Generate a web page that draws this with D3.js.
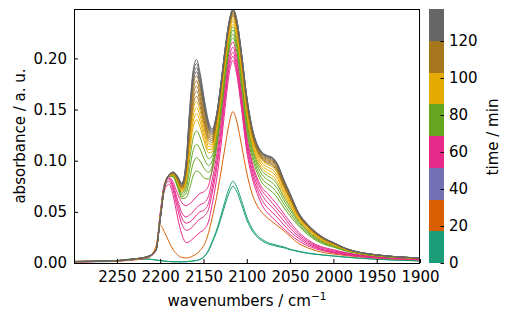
<!DOCTYPE html>
<html><head><meta charset="utf-8">
<script src="https://cdn.jsdelivr.net/npm/d3@7"></script>
<style>body{margin:0;background:#fff}text{font-family:"DejaVu Sans",sans-serif}</style>
</head><body><svg id="c" width="512" height="320"></svg>
<script>
const wavenumbers = [2300,2260,2230,2215,2205,2200,2195,2190,2185,2180,2175,2170,2166,2162,2158,
  2154,2149,2144,2140,2135,2130,2125,2120,2116,2112,2106,2100,2094,2088,2082,
  2076,2070,2064,2058,2050,2040,2030,2020,2010,2000,1985,1970,1950,1925,1900];
const xTicks = [2250,2200,2150,2100,2050,2000,1950,1900];
const yTicks = [0,0.05,0.10,0.15,0.20];
const cbTicks = [0,20,40,60,80,100,120];
const palette = ["#1b9e77","#d95f02","#7570b3","#e7298a","#66a61e","#e6ab02","#a6761d","#666666"];
const times = [0,4,26,52,56,60,64,68,72,76,80,84,88,92,96,100,104,108,112,116,120,124,128,132,136];

const abs_t000 = [0.0015,0.0015,0.004,0.004,0.003,0.0025,0.002,0.0015,0.0012,0.0012,0.0012,0.0013,0.0016,0.002,0.0026,
  0.0036,0.0066,0.013,0.021,0.032,0.046,0.061,0.074,0.080,0.075,0.061,0.045,0.034,0.027,0.023,
  0.020,0.0185,0.017,0.016,0.0135,0.0115,0.0098,0.0087,0.0078,0.007,0.0058,0.0048,0.0037,0.0028,0.0021];
const abs_t004 = [0.0013,0.0013,0.0038,0.0038,0.0028,0.0023,0.0018,0.0014,0.0011,0.0011,0.0011,0.0012,0.0015,0.0019,0.0024,
  0.0034,0.0062,0.012,0.0197,0.030,0.043,0.057,0.0695,0.075,0.0705,0.057,0.042,0.032,0.0254,0.0216,
  0.0188,0.0174,0.016,0.015,0.013,0.011,0.0094,0.0084,0.0075,0.0067,0.0056,0.0046,0.0036,0.0027,0.002];
const abs_t026 = [0.0012,0.0015,0.003,0.005,0.016,0.037,0.030,0.021,0.013,0.008,0.0055,0.005,0.0055,0.007,0.009,
  0.012,0.018,0.030,0.044,0.064,0.088,0.114,0.138,0.148,0.140,0.115,0.088,0.068,0.056,0.049,
  0.044,0.040,0.036,0.032,0.026,0.019,0.015,0.012,0.010,0.0088,0.0072,0.006,0.0048,0.0038,0.003];
const abs_t052 = [0.0012,0.0016,0.0033,0.0052,0.012,0.045,0.071,0.077,0.066,0.045,0.028,0.020,0.021,0.024,0.027,
  0.030,0.033,0.041,0.057,0.081,0.113,0.152,0.187,0.198,0.186,0.150,0.109,0.084,0.068,0.056,
  0.049,0.044,0.039,0.034,0.028,0.0215,0.017,0.0138,0.0115,0.0098,0.0079,0.0064,0.0049,0.004,0.0032];
const abs_t056 = [0.0012,0.0017,0.0034,0.0053,0.012,0.046,0.074,0.080,0.071,0.053,0.038,0.032,0.033,0.036,0.040,
  0.043,0.046,0.053,0.068,0.091,0.122,0.160,0.193,0.202,0.190,0.154,0.113,0.088,0.072,0.061,
  0.054,0.049,0.044,0.038,0.031,0.024,0.0185,0.015,0.0123,0.0105,0.0084,0.0068,0.0052,0.0042,0.0034];
const abs_t060 = [0.0012,0.0017,0.0034,0.0054,0.012,0.047,0.076,0.082,0.074,0.058,0.044,0.039,0.040,0.043,0.047,
  0.050,0.052,0.059,0.074,0.097,0.128,0.165,0.197,0.206,0.194,0.158,0.117,0.092,0.076,0.066,
  0.059,0.054,0.048,0.042,0.034,0.026,0.020,0.016,0.013,0.0112,0.0089,0.0072,0.0055,0.0044,0.0036];
const abs_t064 = [0.0012,0.0018,0.0035,0.0055,0.012,0.048,0.077,0.083,0.076,0.062,0.049,0.045,0.047,0.050,0.054,
  0.057,0.059,0.066,0.081,0.104,0.135,0.171,0.202,0.211,0.199,0.162,0.121,0.096,0.080,0.070,
  0.064,0.058,0.052,0.046,0.037,0.028,0.0215,0.017,0.014,0.012,0.0095,0.0077,0.0058,0.0046,0.0038];
const abs_t068 = [0.0012,0.0018,0.0035,0.0055,0.012,0.048,0.078,0.084,0.079,0.068,0.059,0.056,0.058,0.061,0.065,
  0.068,0.070,0.076,0.091,0.113,0.143,0.177,0.208,0.216,0.204,0.166,0.125,0.099,0.083,0.073,
  0.068,0.062,0.056,0.049,0.040,0.030,0.023,0.018,0.015,0.013,0.010,0.008,0.006,0.0048,0.004];
const abs_t072 = [0.0013,0.0018,0.0036,0.0057,0.012,0.046,0.076,0.085,0.084,0.074,0.063,0.064,0.073,0.085,0.090,
  0.088,0.083,0.082,0.090,0.112,0.144,0.180,0.211,0.220,0.209,0.172,0.130,0.104,0.088,0.078,
  0.073,0.069,0.063,0.055,0.046,0.036,0.028,0.022,0.018,0.0155,0.0115,0.009,0.0068,0.0053,0.0044];
const abs_t076 = [0.0013,0.0018,0.0036,0.0058,0.012,0.0455,0.0758,0.0851,0.0846,0.0753,0.0648,0.0683,0.0822,0.0973,0.103,
  0.0997,0.0922,0.0887,0.0949,0.1164,0.1481,0.184,0.2146,0.2238,0.2131,0.1764,0.1344,0.1079,0.0917,0.082,
  0.0773,0.0735,0.0674,0.0587,0.0489,0.0377,0.0293,0.0231,0.0188,0.0161,0.0118,0.0092,0.007,0.0054,0.0045];
const abs_t080 = [0.0013,0.0018,0.0037,0.0058,0.012,0.045,0.0755,0.0852,0.0852,0.0766,0.0666,0.0726,0.0914,0.1096,0.116,
  0.1114,0.1014,0.0954,0.0998,0.1208,0.1522,0.188,0.2182,0.2275,0.2172,0.1808,0.1388,0.1117,0.0954,0.086,
  0.0815,0.078,0.0718,0.0624,0.0519,0.0395,0.0307,0.0241,0.0196,0.0167,0.0122,0.0094,0.0071,0.0055,0.0046];
const abs_t084 = [0.0013,0.0018,0.0037,0.0059,0.012,0.0446,0.0753,0.0854,0.0858,0.0779,0.0684,0.0769,0.1006,0.1219,0.129,
  0.1231,0.1106,0.102,0.1047,0.1246,0.1558,0.1915,0.2213,0.2308,0.2208,0.1846,0.1426,0.1151,0.0987,0.0895,
  0.0852,0.082,0.0756,0.0657,0.0544,0.041,0.0318,0.0251,0.0203,0.0172,0.0125,0.0096,0.0073,0.0056,0.0046];
const abs_t088 = [0.0014,0.0019,0.0038,0.0059,0.012,0.0442,0.0751,0.0855,0.0863,0.079,0.0699,0.0805,0.1083,0.1323,0.140,
  0.133,0.1183,0.1077,0.1088,0.1274,0.1584,0.194,0.2236,0.2332,0.2234,0.1874,0.1454,0.1175,0.101,0.092,
  0.0879,0.0848,0.0784,0.068,0.0563,0.0421,0.0327,0.0257,0.0208,0.0176,0.0127,0.0097,0.0074,0.0056,0.0047];
const abs_t092 = [0.0014,0.0019,0.0038,0.006,0.012,0.0439,0.075,0.0855,0.0866,0.0797,0.0707,0.0825,0.1126,0.1379,0.146,
  0.1384,0.1226,0.1108,0.1111,0.1306,0.1615,0.1969,0.2262,0.236,0.2265,0.1906,0.1486,0.1204,0.1038,0.0949,
  0.091,0.0882,0.0816,0.0708,0.0584,0.0433,0.0336,0.0265,0.0214,0.018,0.0129,0.0098,0.0075,0.0057,0.0047];
const abs_t096 = [0.0014,0.0019,0.0039,0.006,0.012,0.0437,0.0749,0.0856,0.0868,0.0803,0.0715,0.0845,0.1168,0.1436,0.152,
  0.1438,0.1268,0.1139,0.1133,0.1333,0.164,0.1994,0.2284,0.2383,0.229,0.1933,0.1513,0.1227,0.1061,0.0974,
  0.0937,0.091,0.0843,0.0731,0.0602,0.0444,0.0345,0.0272,0.0219,0.0184,0.0131,0.01,0.0076,0.0058,0.0048];
const abs_t100 = [0.0014,0.0019,0.0039,0.006,0.012,0.0435,0.0748,0.0856,0.0871,0.0809,0.0724,0.0865,0.121,0.1493,0.158,
  0.1492,0.131,0.1169,0.1156,0.136,0.1666,0.2018,0.2307,0.2406,0.2316,0.196,0.154,0.1251,0.1084,0.0998,
  0.0963,0.0938,0.087,0.0754,0.062,0.0455,0.0353,0.0278,0.0224,0.0188,0.0133,0.0101,0.0077,0.0058,0.0048];
const abs_t104 = [0.0014,0.0019,0.0039,0.0061,0.012,0.0433,0.0747,0.0857,0.0874,0.0814,0.0731,0.0881,0.1246,0.154,0.163,
  0.1537,0.1346,0.1195,0.1175,0.1374,0.1679,0.2031,0.2318,0.2418,0.2329,0.1974,0.1554,0.1263,0.1096,0.1011,
  0.0976,0.0952,0.0884,0.0766,0.0629,0.046,0.0357,0.0282,0.0226,0.019,0.0134,0.0102,0.0077,0.0058,0.0049];
const abs_t108 = [0.0014,0.0019,0.0039,0.0061,0.012,0.0431,0.0746,0.0857,0.0876,0.0819,0.0737,0.0898,0.1281,0.1587,0.168,
  0.1582,0.1381,0.1221,0.1194,0.1387,0.1691,0.2043,0.2329,0.2429,0.2341,0.1987,0.1567,0.1275,0.1107,0.1023,
  0.0989,0.0965,0.0897,0.0777,0.0638,0.0465,0.0361,0.0285,0.0229,0.0191,0.0135,0.0102,0.0078,0.0059,0.0049];
const abs_t112 = [0.0015,0.002,0.0039,0.0061,0.012,0.043,0.0745,0.0858,0.0878,0.0824,0.0744,0.0914,0.1316,0.1634,0.173,
  0.1626,0.1416,0.1246,0.1212,0.1399,0.1702,0.2053,0.2338,0.2439,0.2352,0.1999,0.1579,0.1285,0.1116,0.1033,
  0.1,0.0977,0.0909,0.0786,0.0646,0.047,0.0364,0.0288,0.0231,0.0193,0.0136,0.0103,0.0078,0.0059,0.0049];
const abs_t116 = [0.0015,0.002,0.004,0.0061,0.012,0.0428,0.0744,0.0858,0.088,0.0829,0.0751,0.0931,0.1351,0.1681,0.178,
  0.1671,0.1451,0.1272,0.1231,0.141,0.1712,0.2064,0.2347,0.2449,0.2362,0.201,0.159,0.1295,0.1126,0.1044,
  0.1011,0.0989,0.092,0.0796,0.0653,0.0474,0.0368,0.029,0.0233,0.0195,0.0137,0.0103,0.0079,0.0059,0.0049];
const abs_t120 = [0.0015,0.002,0.004,0.0062,0.012,0.0426,0.0743,0.0859,0.0883,0.0834,0.0758,0.0947,0.1387,0.1729,0.183,
  0.1716,0.1487,0.1298,0.125,0.1421,0.1723,0.2074,0.2356,0.2458,0.2373,0.2021,0.1601,0.1304,0.1135,0.1054,
  0.1022,0.1,0.0931,0.0805,0.0661,0.0479,0.0371,0.0293,0.0235,0.0196,0.0138,0.0104,0.0079,0.006,0.0049];
const abs_t124 = [0.0015,0.002,0.004,0.0062,0.012,0.0424,0.0742,0.0859,0.0885,0.0838,0.0764,0.096,0.1415,0.1767,0.187,
  0.1752,0.1515,0.1318,0.1265,0.1431,0.1732,0.2083,0.2364,0.2467,0.2382,0.2031,0.1611,0.1313,0.1144,0.1063,
  0.1031,0.101,0.0941,0.0814,0.0667,0.0482,0.0374,0.0295,0.0237,0.0197,0.0139,0.0104,0.0079,0.006,0.005];
const abs_t128 = [0.0015,0.002,0.004,0.0062,0.012,0.0423,0.0741,0.0859,0.0886,0.0842,0.0769,0.0974,0.1444,0.1805,0.191,
  0.1788,0.1544,0.1339,0.128,0.1439,0.174,0.209,0.2371,0.2474,0.239,0.2039,0.1619,0.1321,0.1151,0.107,
  0.104,0.1019,0.0949,0.0821,0.0673,0.0486,0.0377,0.0297,0.0238,0.0199,0.0139,0.0105,0.008,0.006,0.005];
const abs_t132 = [0.0015,0.002,0.004,0.0062,0.012,0.0421,0.0741,0.086,0.0888,0.0846,0.0774,0.0987,0.1472,0.1842,0.195,
  0.1824,0.1571,0.1359,0.1295,0.1445,0.1745,0.2096,0.2376,0.2479,0.2395,0.2045,0.1625,0.1326,0.1156,0.1076,
  0.1045,0.1025,0.0955,0.0826,0.0677,0.0488,0.0379,0.0299,0.0239,0.0199,0.014,0.0105,0.008,0.006,0.005];
const abs_t136 = [0.0015,0.002,0.004,0.0062,0.012,0.042,0.074,0.086,0.089,0.085,0.078,0.100,0.150,0.188,0.199,
  0.186,0.160,0.138,0.131,0.145,0.175,0.210,0.238,0.2483,0.240,0.205,0.163,0.133,0.116,0.108,
  0.105,0.103,0.096,0.083,0.068,0.049,0.038,0.030,0.024,0.020,0.014,0.0105,0.008,0.006,0.005];

const spectra = [abs_t000,abs_t004,abs_t026,abs_t052,abs_t056,abs_t060,abs_t064,abs_t068,abs_t072,abs_t076,
  abs_t080,abs_t084,abs_t088,abs_t092,abs_t096,abs_t100,abs_t104,abs_t108,abs_t112,abs_t116,
  abs_t120,abs_t124,abs_t128,abs_t132,abs_t136];

const L=74, R=420, T=9, B=263;
const svg = d3.select('#c');
const x = d3.scaleLinear().domain([2299.5,1900]).range([L,R]);
const y = d3.scaleLinear().domain([0,0.2483]).range([B,T]);
const tMax = 137.3;
const color = d3.scaleQuantize().domain([0,tMax]).range(palette);

svg.append('defs').append('clipPath').attr('id','clip')
  .append('rect').attr('x',L).attr('y',T).attr('width',R-L).attr('height',B-T);

const line = d3.line().x((d,i)=>x(wavenumbers[i])).y(d=>y(d)).curve(d3.curveMonotoneX);
const g = svg.append('g').attr('clip-path','url(#clip)');
spectra.forEach((s,k)=>{
  g.append('path').attr('d',line(s)).attr('fill','none')
    .attr('stroke',color(times[k])).attr('stroke-width',1);
});

// axes
const xa = svg.append('g').attr('transform',`translate(0,${B})`)
  .call(d3.axisBottom(x).tickValues(xTicks).tickFormat(d3.format('d')).tickSizeInner(-4).tickSizeOuter(0).tickPadding(8));
const ya = svg.append('g').attr('transform',`translate(${L},0)`)
  .call(d3.axisLeft(y).tickValues(yTicks).tickFormat(d3.format('.2f')).tickSizeInner(-4).tickSizeOuter(0).tickPadding(7));
[xa,ya].forEach(a=>{
  a.select('.domain').remove();
  a.selectAll('text').attr('font-size',15).attr('fill','#000').attr('font-family','DejaVu Sans');
  a.selectAll('line').attr('stroke','#000');
});
svg.append('rect').attr('x',L+0.5).attr('y',T+0.5).attr('width',R-L-1).attr('height',B-T)
  .attr('fill','none').attr('stroke','#000').attr('stroke-width',1);

// labels
const xl = svg.append('text').attr('x',(L+R)/2).attr('y',306).attr('text-anchor','middle')
  .attr('font-size',15).attr('fill','#000');
xl.append('tspan').text('wavenumbers / cm');
xl.append('tspan').attr('dy',-6).attr('font-size',10.5).text('\u22121');
svg.append('text').attr('transform','translate(25,136) rotate(-90)').attr('text-anchor','middle')
  .attr('font-size',15).attr('fill','#000').text('absorbance / a. u.');

// colorbar
const cx0=429, cx1=444;
const cy = d3.scaleLinear().domain([0,tMax]).range([B,T]);
const bins = palette.map((c,i)=>[i*tMax/8,(i+1)*tMax/8,c]);
svg.append('g').selectAll('rect').data(bins).join('rect')
  .attr('x',cx0).attr('width',cx1-cx0)
  .attr('y',d=>cy(d[1])).attr('height',d=>cy(d[0])-cy(d[1]))
  .attr('fill',d=>d[2]).attr('shape-rendering','crispEdges');
const ca = svg.append('g').attr('transform',`translate(${cx1},0)`)
  .call(d3.axisRight(cy).tickValues(cbTicks).tickFormat(d3.format('d')).tickSizeInner(-3.5).tickSizeOuter(0).tickPadding(5));
ca.select('.domain').remove();
ca.selectAll('text').attr('font-size',15).attr('fill','#000').attr('font-family','DejaVu Sans');
ca.selectAll('line').attr('stroke','#000');
svg.append('text').attr('transform','translate(498,137) rotate(-90)').attr('text-anchor','middle')
  .attr('font-size',15).attr('fill','#000').text('time / min');
</script></body></html>
